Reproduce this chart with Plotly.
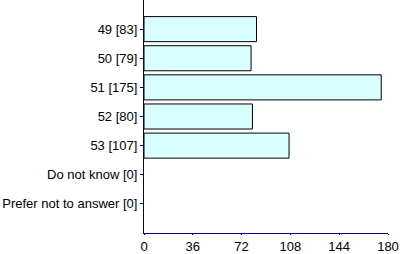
import plotly.graph_objects as go

categories = ["49 [83]", "50 [79]", "51 [175]", "52 [80]", "53 [107]",
              "Do not know [0]", "Prefer not to answer [0]"]
values = [83, 79, 175, 80, 107, 0, 0]
x_ticks = [0, 36, 72, 108, 144, 180]

fig = go.Figure(go.Bar(
    x=values, y=categories, orientation="h",
    marker=dict(color="#D9FFFF",
                line=dict(color="black", width=[1 if v > 0 else 0 for v in values])),
))

fig.update_layout(
    width=400, height=254,
    margin=dict(l=144, r=12, t=0, b=21),
    paper_bgcolor="white", plot_bgcolor="white",
    bargap=0.14,
    showlegend=False,
    font=dict(family="Liberation Sans, Arial, sans-serif", size=13, color="black"),
)
fig.update_xaxes(
    range=[0, 180], tickvals=x_ticks, ticktext=[str(v) for v in x_ticks],
    showgrid=False, zeroline=False,
    showline=True, linecolor="#000080", linewidth=1,
    ticks="outside", ticklen=1, tickcolor="#000080",
)
fig.update_yaxes(
    type="category", categoryorder="array", categoryarray=categories,
    range=[7, -1],
    showgrid=False, zeroline=False,
    showline=True, linecolor="#000080", linewidth=1,
    ticks="outside", ticklen=3, tickcolor="#000080",
)

fig.write_html("out.html")
